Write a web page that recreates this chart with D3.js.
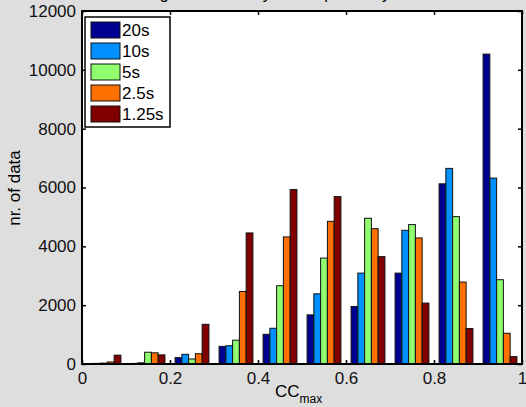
<!DOCTYPE html>
<html>
<head>
<meta charset="utf-8">
<script src="https://cdn.jsdelivr.net/npm/d3@7"></script>
<style>
  body { margin: 0; background: #dedede; }
  svg { display: block; font-family: "Liberation Sans", Arial, sans-serif; }
</style>
</head>
<body>
<div class="container"></div>
<script>
var w = 526;
var h = 407;

// bin centres of CC_max
var bins = [0.05, 0.15, 0.25, 0.35, 0.45, 0.55, 0.65, 0.75, 0.85, 0.95];
var series = ["20s", "10s", "5s", "2.5s", "1.25s"];
var colors = ["#000090", "#0090ff", "#90ff70", "#ff7000", "#800000"];

var v20 = [10, 20, 215, 600, 1010, 1670, 1955, 3090, 6125, 10535];
var v10 = [20, 40, 330, 620, 1215, 2385, 3090, 4545, 6650, 6320];
var v5 = [30, 400, 170, 810, 2660, 3600, 4955, 4740, 5010, 2865];
var v25 = [70, 380, 350, 2465, 4320, 4850, 4600, 4285, 2785, 1045];
var v125 = [300, 310, 1350, 4455, 5930, 5690, 3650, 2070, 1205, 250];
var values = [v20, v10, v5, v25, v125];

var xTicks = [0, 0.2, 0.4, 0.6, 0.8, 1];
var yTicks = [0, 2000, 4000, 6000, 8000, 10000, 12000];

// plot box edges (note: "top" is reserved on window)
var pLeft = 82, pRight = 522, pTop = 11, pBottom = 364;

var svg = d3.select('.container')
  .append('svg')
  .attr('width', w)
  .attr('height', h);

var xScale = d3.scaleLinear().domain([0, 1]).range([pLeft, pRight]);
var yScale = d3.scaleLinear().domain([0, 12000]).range([pBottom, pTop]);

// matlab style grouped bars: group is 5/6.5 of bin width
var groupW = (xScale(0.1) - xScale(0)) * 5 / 6.5;
var inner = d3.scaleBand().domain(series).range([-groupW / 2, groupW / 2]);

// title, mostly cut off at the top
svg.append('text')
  .attr('x', (pLeft + pRight) / 2)
  .attr('y', -1)
  .attr('text-anchor', 'middle')
  .style('font-size', '16px')
  .text('Histogram of data by month period by window size');

svg.append('rect')
  .attr('x', pLeft).attr('y', pTop)
  .attr('width', pRight - pLeft).attr('height', pBottom - pTop)
  .style('fill', 'white');

series.forEach(function(s, k) {
  svg.append('g').selectAll('rect')
    .data(values[k])
    .enter()
    .append('rect')
    .attr('x', (d, i) => xScale(bins[i]) + inner(s))
    .attr('y', d => yScale(d))
    .attr('width', inner.bandwidth())
    .attr('height', d => yScale(0) - yScale(d))
    .style('fill', colors[k])
    .style('stroke', '#111')
    .style('stroke-width', 1);
});

// axes with inward ticks
svg.append('g')
  .attr('transform', 'translate(0,' + pBottom + ')')
  .call(d3.axisBottom(xScale).tickValues(xTicks).tickSize(-4).tickPadding(8).tickFormat(d3.format('')))
  .call(g => g.select('.domain').remove());
svg.append('g')
  .attr('transform', 'translate(0,' + pTop + ')')
  .call(d3.axisTop(xScale).tickValues(xTicks).tickSize(-4).tickFormat(''))
  .call(g => g.select('.domain').remove());
svg.append('g')
  .attr('transform', 'translate(' + pLeft + ',0)')
  .call(d3.axisLeft(yScale).tickValues(yTicks).tickSize(-4).tickPadding(6).tickFormat(d3.format('d')))
  .call(g => g.select('.domain').remove());
svg.append('g')
  .attr('transform', 'translate(' + pRight + ',0)')
  .call(d3.axisRight(yScale).tickValues(yTicks).tickSize(-4).tickFormat(''))
  .call(g => g.select('.domain').remove());

svg.selectAll('.tick line').style('stroke', 'black').style('stroke-width', 1.5);
svg.selectAll('.tick text')
  .style('font-size', '17px')
  .style('font-family', '"Liberation Sans", Arial, sans-serif')
  .style('fill', '#111');

svg.append('rect')
  .attr('x', pLeft).attr('y', pTop)
  .attr('width', pRight - pLeft).attr('height', pBottom - pTop)
  .style('fill', 'none')
  .style('stroke', 'black')
  .style('stroke-width', 2);

// axis labels
svg.append('text')
  .attr('transform', 'translate(20,188) rotate(-90)')
  .attr('text-anchor', 'middle')
  .style('font-size', '17px')
  .text('nr. of data');

var xl = svg.append('text')
  .attr('x', 275)
  .attr('y', 397)
  .style('font-size', '17px');
xl.append('tspan').text('CC');
xl.append('tspan').attr('dy', 6).style('font-size', '12px').text('max');

// legend
var legend = svg.append('g').attr('id', 'legend');
legend.append('rect')
  .attr('x', 85).attr('y', 17)
  .attr('width', 85).attr('height', 110)
  .style('fill', 'white')
  .style('stroke', 'black')
  .style('stroke-width', 1.5);

legend.selectAll('.sw')
  .data(series)
  .enter()
  .append('rect')
  .attr('x', 91)
  .attr('y', (d, i) => 22 + i * 21)
  .attr('width', 29)
  .attr('height', 16)
  .style('fill', (d, i) => colors[i])
  .style('stroke', '#111');

legend.selectAll('.lab')
  .data(series)
  .enter()
  .append('text')
  .attr('x', 122)
  .attr('y', (d, i) => 36 + i * 21)
  .style('font-size', '17px')
  .text(d => d);
</script>
</body>
</html>
